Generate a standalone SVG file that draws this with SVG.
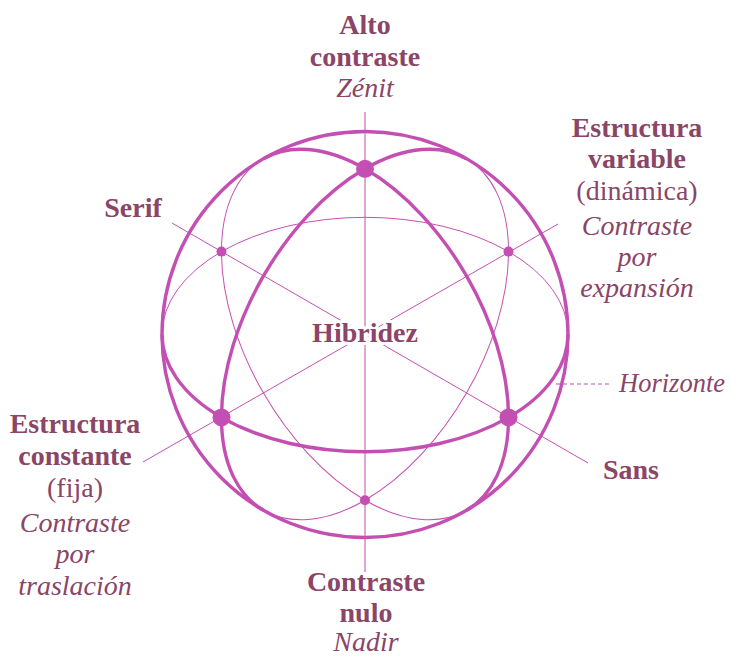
<svg xmlns="http://www.w3.org/2000/svg" width="730" height="657" viewBox="0 0 730 657">
<style>
.thin{fill:none;stroke:#C44FB3;stroke-width:1}
.thick{fill:none;stroke:#C44FB3;stroke-width:3.4}
.dot{fill:#C44FB3}
text{font-family:"Liberation Serif","Times New Roman",serif;font-size:28px;fill:#8B4567;text-anchor:middle}
.b{font-weight:bold}
.i{font-style:italic}
.halo{paint-order:stroke;stroke:#fff;stroke-width:6px;stroke-linejoin:round}
</style>
<defs>
<path id="back" d="M -203 0 A 203 117.2 0 0 1 203 0"/>
<path id="front" d="M -203 0 A 203 117.2 0 0 0 203 0"/>
</defs>
<g id="connectors">
<line class="thin" x1="365" y1="112" x2="365" y2="572"/>
<line class="thin" x1="172" y1="223" x2="588" y2="463"/>
<line class="thin" x1="558" y1="224" x2="143" y2="462"/>
<line class="thin" x1="556" y1="384" x2="612" y2="384" stroke-dasharray="4 3"/>
</g>
<g id="sphere" transform="translate(365 334.5)">
<g id="back-halves" class="thin">
<use href="#back"/>
<use href="#back" transform="rotate(120)"/>
<use href="#back" transform="rotate(240)"/>
</g>
<circle class="thick" cx="0" cy="0" r="203"/>
<g id="front-halves" class="thick">
<use href="#front"/>
<use href="#front" transform="rotate(120)"/>
<use href="#front" transform="rotate(240)"/>
</g>
</g>
<g id="vertices">
<circle id="v-top" class="dot" cx="365" cy="168.8" r="9"/>
<circle id="v-bl" class="dot" cx="221.5" cy="417.4" r="9"/>
<circle id="v-br" class="dot" cx="508.5" cy="417.4" r="9"/>
<circle id="v-tl" class="dot" cx="221.5" cy="251.6" r="5"/>
<circle id="v-tr" class="dot" cx="508.5" cy="251.6" r="5"/>
<circle id="v-bot" class="dot" cx="365" cy="500.2" r="5"/>
</g>
<g id="zenit">
<text class="b" x="365" y="34">Alto</text>
<text class="b" x="365" y="66">contraste</text>
<text class="i" x="365" y="97">Zénit</text>
</g>
<g id="variable">
<text class="b" x="637" y="137">Estructura</text>
<text class="b" x="637" y="168">variable</text>
<text x="637" y="200">(dinámica)</text>
<text class="i" x="637" y="235">Contraste</text>
<text class="i" x="637" y="266">por</text>
<text class="i" x="637" y="297">expansión</text>
</g>
<g id="serif"><text class="b" x="133" y="217">Serif</text></g>
<g id="hibridez"><text class="b halo" x="365" y="342">Hibridez</text></g>
<g id="constante">
<text class="b" x="75" y="433">Estructura</text>
<text class="b" x="75" y="465">constante</text>
<text x="75" y="497">(fija)</text>
<text class="i" x="75" y="532">Contraste</text>
<text class="i" x="75" y="563">por</text>
<text class="i" x="75" y="595">traslación</text>
</g>
<g id="sans"><text class="b" x="631" y="479">Sans</text></g>
<g id="horizonte"><text class="i" x="619" y="392" style="text-anchor:start" textLength="106" lengthAdjust="spacingAndGlyphs">Horizonte</text></g>
<g id="nadir">
<text class="b" x="366" y="591">Contraste</text>
<text class="b" x="366" y="622">nulo</text>
<text class="i" x="366" y="651">Nadir</text>
</g>
</svg>
